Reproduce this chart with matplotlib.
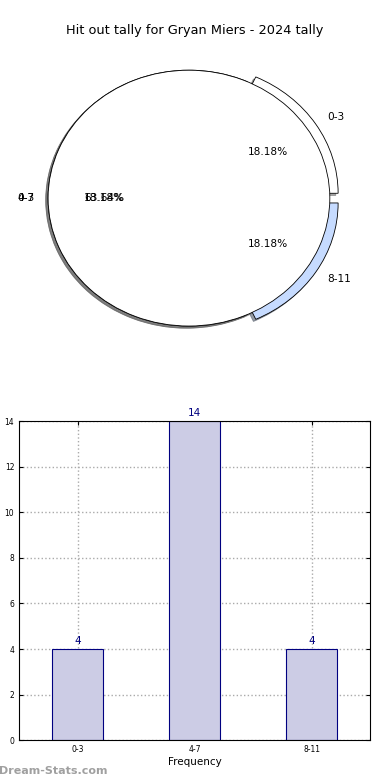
import matplotlib
matplotlib.use("Agg")
import matplotlib.pyplot as plt

# datos del gráfico
categorias = ["0-3", "4-7", "8-11"]
conteos = [4, 14, 4]
titulo = "Hit out tally for Gryan Miers - 2024 tally"

total = sum(conteos)

fig = plt.figure(figsize=(3.9, 7.8), dpi=100)
fig.text(0.5, 0.961, titulo, ha="center", va="center", fontsize=9.3)

sombra = dict(ox=-0.012, oy=-0.012, shade=0.6, alpha=0.6)

# --- pastel ---
ax1 = fig.add_axes([0.033, 0.541, 0.903, 0.41])
ax1.pie(conteos, labels=categorias, explode=[0.07, 0, 0.07],
        colors=["white", "white", "#c6dbff"], autopct="%1.2f%%",
        shadow=sombra, startangle=0, pctdistance=0.6, labeldistance=1.1,
        wedgeprops=dict(edgecolor="black", linewidth=0.6),
        textprops=dict(fontsize=7.6))
# segunda capa blanca encima (como en el original)
ax1.pie([total], labels=[categorias[0]], colors=["white"],
        autopct=lambda p: "%1.2f%%" % (100.0 * conteos[0] / total),
        shadow=sombra, startangle=0, pctdistance=0.6, labeldistance=1.1,
        wedgeprops=dict(edgecolor="black", linewidth=0.6),
        textprops=dict(fontsize=7.6))
ax1.set_aspect("auto")
ax1.set_xlim(-1.25, 1.25)
ax1.set_ylim(-1.25, 1.25)

# --- barras ---
ax2 = fig.add_axes([0.049, 0.051, 0.9, 0.409])
pos = list(range(len(categorias)))
ax2.bar(pos, conteos, width=0.44, color="#ccccE5", edgecolor="#000080",
        linewidth=0.8, zorder=2)
for p, v in zip(pos, conteos):
    ax2.text(p, v + 0.15, str(v), ha="center", va="bottom", color="#000080",
             fontsize=7.5)
ax2.set_xlim(-0.5, 2.5)
ax2.set_ylim(0, 14)
ax2.set_xticks(pos)
ax2.set_xticklabels(categorias)
ax2.set_yticks(range(0, 15, 2))
ax2.tick_params(labelsize=5.5, direction="in", top=True, right=True, length=3)
ax2.grid(True, linestyle=":", color="#aaaaaa", linewidth=1, zorder=0)
ax2.set_axisbelow(True)
ax2.set_xlabel("Frequency", fontsize=7.5, labelpad=2)
ax2.set_ylabel("Hit out tally", fontsize=7, labelpad=6)

fig.text(-0.002, 0.012, "Dream-Stats.com", fontsize=8, color="#a0a0a0",
         fontweight="bold", ha="left", va="center")

fig.savefig("out.png", dpi=100)
